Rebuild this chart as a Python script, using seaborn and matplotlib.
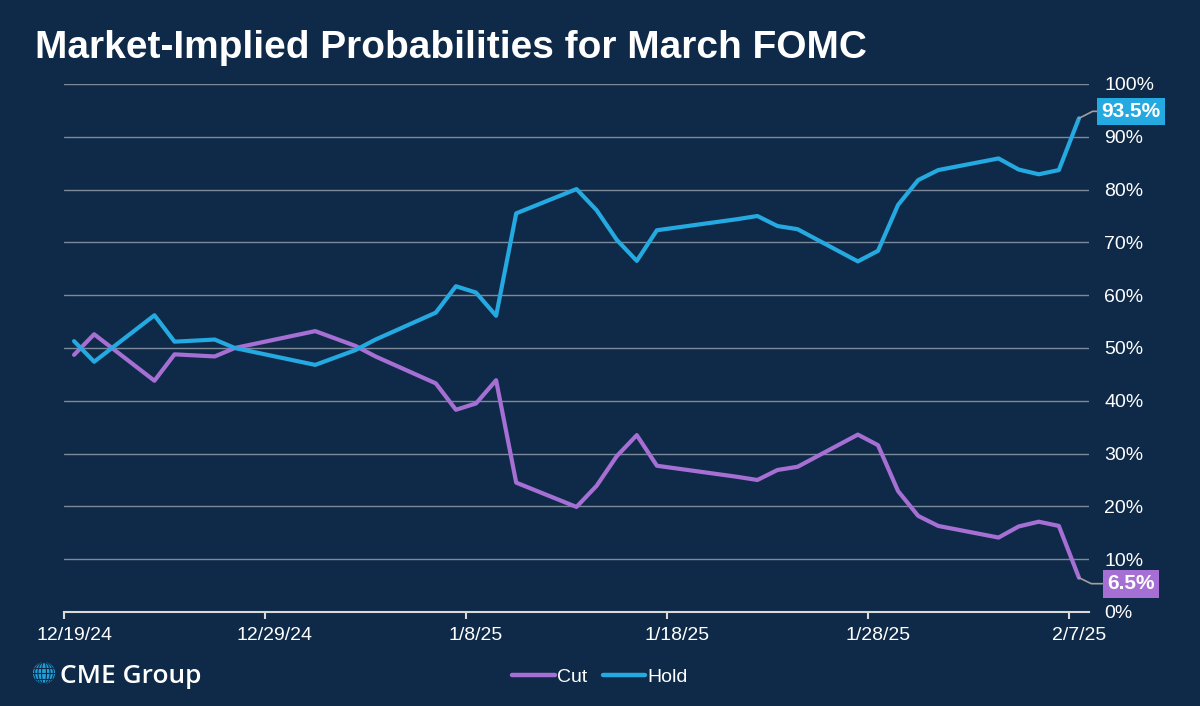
import matplotlib
matplotlib.use('Agg')
import matplotlib.pyplot as plt
import matplotlib.dates as mdates
import matplotlib.transforms as mtransforms
from matplotlib.lines import Line2D
from matplotlib.patches import Circle, Ellipse
import pandas as pd
import seaborn as sns

BG = '#0f2a48'
CUT_COLOR = '#a66fd4'
HOLD_COLOR = '#24a9e1'
GRID_COLOR = '#7d8a99'

dates = [
    '2024-12-19', '2024-12-20', '2024-12-23', '2024-12-24', '2024-12-26', '2024-12-27',
    '2024-12-31', '2025-01-02', '2025-01-03', '2025-01-06', '2025-01-07', '2025-01-08',
    '2025-01-09', '2025-01-10', '2025-01-13', '2025-01-14', '2025-01-15', '2025-01-16',
    '2025-01-17', '2025-01-21', '2025-01-22', '2025-01-23', '2025-01-24', '2025-01-27',
    '2025-01-28', '2025-01-29', '2025-01-30', '2025-01-31', '2025-02-03', '2025-02-04',
    '2025-02-05', '2025-02-06', '2025-02-07',
]
hold = [51.3, 47.4, 56.2, 51.2, 51.6, 50.0, 46.8, 49.6, 51.6, 56.7, 61.7, 60.5,
        56.1, 75.5, 80.1, 76.1, 70.5, 66.5, 72.3, 74.4, 75.0, 73.1, 72.5, 66.4,
        68.4, 77.1, 81.8, 83.7, 85.9, 83.8, 82.9, 83.7, 93.5]
cut = [48.7, 52.6, 43.8, 48.8, 48.4, 50.0, 53.2, 50.4, 48.4, 43.3, 38.3, 39.5,
       43.9, 24.5, 19.9, 23.9, 29.5, 33.5, 27.7, 25.6, 25.0, 26.9, 27.5, 33.6,
       31.6, 22.9, 18.2, 16.3, 14.1, 16.2, 17.1, 16.3, 6.5]
tick_dates = ['2024-12-19', '2024-12-29', '2025-01-08', '2025-01-18', '2025-01-28', '2025-02-07']
y_ticks = [0, 10, 20, 30, 40, 50, 60, 70, 80, 90, 100]

sns.set_theme(style='dark')
plt.rcParams['font.family'] = ['Liberation Sans', 'DejaVu Sans']

# points sit mid-day on the axis
when = pd.to_datetime(dates) + pd.Timedelta(hours=12)
df = pd.concat([
    pd.DataFrame({'date': when, 'prob': cut, 'series': 'Cut'}),
    pd.DataFrame({'date': when, 'prob': hold, 'series': 'Hold'}),
])

fig = plt.figure(figsize=(12, 7.06), dpi=100, facecolor=BG)
ax = fig.add_axes([64 / 1200, 1 - 612 / 706, 1025 / 1200, 528 / 706])
ax.set_facecolor(BG)

sns.lineplot(data=df, x='date', y='prob', hue='series',
             palette={'Cut': CUT_COLOR, 'Hold': HOLD_COLOR},
             linewidth=3.0, legend=False, ax=ax)

ax.set_ylim(0, 100)
ax.set_xlim(pd.Timestamp('2024-12-19'), pd.Timestamp('2025-02-08'))
ax.set_yticks(y_ticks)
ax.set_yticklabels([f'{v}%' for v in y_ticks])
ax.yaxis.tick_right()
ax.set_xticks(pd.to_datetime(tick_dates))
ax.xaxis.set_major_formatter(mdates.DateFormatter('%-m/%-d/%y'))
ax.set_xlabel('')
ax.set_ylabel('')

for s in ['top', 'left', 'right']:
    ax.spines[s].set_visible(False)
ax.spines['bottom'].set_color('#d9d9d9')
ax.spines['bottom'].set_linewidth(1.5)

ax.grid(axis='y', color=GRID_COLOR, linewidth=1.0)
ax.grid(axis='x', visible=False)
ax.set_axisbelow(True)
ax.tick_params(axis='y', length=0, pad=11, labelsize=14, labelcolor='white')
ax.tick_params(axis='x', length=5, width=1.5, color='#d9d9d9', direction='out',
               pad=6, labelsize=14, labelcolor='white', bottom=True)

shift = mtransforms.ScaledTranslation(10 / 100, 0, fig.dpi_scale_trans)
for lbl in ax.get_xticklabels():
    lbl.set_transform(lbl.get_transform() + shift)

# end-of-series value boxes
ax.annotate(f'{hold[-1]}%', xy=(when[-1], hold[-1]), xytext=(52, 7),
            textcoords='offset pixels', ha='center', va='center',
            fontsize=15, fontweight='bold', color='white',
            bbox=dict(boxstyle='square,pad=0.2', fc=HOLD_COLOR, ec='none'),
            arrowprops=dict(arrowstyle='-', color='#a0a0a0', lw=1.2,
                            shrinkA=0, shrinkB=0,
                            connectionstyle='angle,angleA=0,angleB=27,rad=0'),
            annotation_clip=False)
ax.annotate(f'{cut[-1]}%', xy=(when[-1], cut[-1]), xytext=(52, -6),
            textcoords='offset pixels', ha='center', va='center',
            fontsize=15, fontweight='bold', color='white',
            bbox=dict(boxstyle='square,pad=0.22', fc=CUT_COLOR, ec='none'),
            arrowprops=dict(arrowstyle='-', color='#a0a0a0', lw=1.2,
                            shrinkA=0, shrinkB=0,
                            connectionstyle='angle,angleA=0,angleB=-26,rad=0'),
            annotation_clip=False)

fig.text(35 / 1200, 1 - 58 / 706, 'Market-Implied Probabilities for March FOMC',
         fontsize=28, fontweight='bold', color='white', va='baseline', ha='left')

handles = [Line2D([], [], color=CUT_COLOR, lw=3.2, solid_capstyle='round'),
           Line2D([], [], color=HOLD_COLOR, lw=3.2, solid_capstyle='round')]
fig.legend(handles, ['Cut', 'Hold'], loc='center', bbox_to_anchor=(0.5, 1 - 677 / 706),
           ncol=2, frameon=False, fontsize=14, labelcolor='white',
           handlelength=2.2, handletextpad=0.12, columnspacing=0.8)

# CME Group logo
lax = fig.add_axes([33 / 1200, 1 - 684 / 706, 22 / 1200, 22 / 706])
lax.set_xlim(-1, 1)
lax.set_ylim(-1, 1)
lax.set_aspect('equal')
lax.axis('off')
globe = Circle((0, 0), 1, fc='#1fa3dc', ec='none')
lax.add_patch(globe)
for w in [0.45, 1.1, 1.7]:
    e = Ellipse((0, 0), w, 2, fc='none', ec=BG, lw=0.8)
    lax.add_patch(e)
    e.set_clip_path(globe)
for yy in [-0.5, 0, 0.5]:
    ln, = lax.plot([-1, 1], [yy, yy], color=BG, lw=0.8)
    ln.set_clip_path(globe)
fig.text(60 / 1200, 1 - 683 / 706, 'CME Group', fontsize=19, color='white',
         fontweight='semibold', va='baseline', ha='left', family=['Open Sans', 'DejaVu Sans'])

fig.savefig('out.png', dpi=100, facecolor=BG)
